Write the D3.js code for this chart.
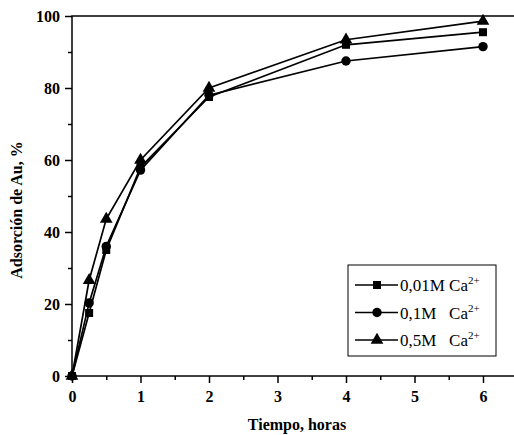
<!DOCTYPE html>
<html lang="es">
<head>
<meta charset="UTF-8">
<title>Adsorción de Au</title>
<script src="https://d3js.org/d3.v7.min.js"></script>
<style>
  body { margin: 0; padding: 0; background: #fff; }
  svg { display: block; font-family: "Liberation Serif", "Times New Roman", serif; }
</style>
</head>
<body>
<div id="chart"></div>
<script>
  // data
  const tiempo = [0, 0.25, 0.5, 1, 2, 4, 6];
  const ca001 = [0, 17.5, 35, 58, 77.5, 92, 95.5];
  const ca01 = [0, 20.3, 36, 57.2, 78, 87.5, 91.5];
  const ca05 = [0, 26.6, 43.6, 60, 80, 93.4, 98.6];
  const seriesNames = ["0,01M Ca", "0,1M   Ca", "0,5M   Ca"];
  const xTicks = [0, 1, 2, 3, 4, 5, 6];
  const yTicks = [0, 20, 40, 60, 80, 100];

  const width = 514, height = 435;
  const margin = { top: 16, bottom: 59, left: 72 };
  const xMax = 6.6; // frame runs past the right edge of the picture

  const svg = d3.select("#chart").append("svg")
    .attr("width", width).attr("height", height);

  const x = d3.scaleLinear().domain([0, xMax]).range([margin.left, margin.left + xMax * 68.5]);
  const y = d3.scaleLinear().domain([0, 100]).range([height - margin.bottom, margin.top]);

  // frame
  svg.append("rect")
    .attr("x", x(0)).attr("y", y(100))
    .attr("width", x(xMax) - x(0)).attr("height", y(0) - y(100))
    .attr("fill", "none").attr("stroke", "#000").attr("stroke-width", 1.5);

  // x axis
  const xAxis = svg.append("g").attr("transform", `translate(0,${y(0)})`);
  xAxis.call(d3.axisBottom(x).tickValues(xTicks).tickSize(7).tickPadding(8).tickFormat(d3.format("d")));
  xAxis.append("g").call(d3.axisBottom(x).tickValues([0.5, 1.5, 2.5, 3.5, 4.5, 5.5]).tickSize(4).tickFormat(""));
  // y axis
  const yAxis = svg.append("g").attr("transform", `translate(${x(0)},0)`);
  yAxis.call(d3.axisLeft(y).tickValues(yTicks).tickSize(7).tickPadding(5));
  yAxis.append("g").call(d3.axisLeft(y).tickValues([10, 30, 50, 70, 90]).tickSize(4).tickFormat(""));

  svg.selectAll(".domain").remove();
  svg.selectAll(".tick line").attr("stroke", "#000").attr("stroke-width", 1.5);
  svg.selectAll(".tick text")
    .attr("fill", "#000")
    .style("font-family", "Liberation Serif, serif")
    .style("font-size", "16px")
    .style("font-weight", "bold");

  // axis titles
  svg.append("text")
    .attr("x", 297).attr("y", 430)
    .attr("text-anchor", "middle")
    .style("font-size", "16px").style("font-weight", "bold")
    .text("Tiempo, horas");
  svg.append("text")
    .attr("transform", "translate(22,210) rotate(-90)")
    .attr("text-anchor", "middle")
    .style("font-size", "16px").style("font-weight", "bold")
    .text("Adsorción de Au, %");

  const series = [
    { name: seriesNames[0], values: ca001, shape: d3.symbolSquare, size: 64 },
    { name: seriesNames[1], values: ca01, shape: d3.symbolCircle, size: 70 },
    { name: seriesNames[2], values: ca05, shape: d3.symbolTriangle, size: 70 }
  ];

  const line = d3.line().x((d, i) => x(tiempo[i])).y(d => y(d));

  series.forEach(s => {
    svg.append("path")
      .datum(s.values)
      .attr("d", line)
      .attr("fill", "none").attr("stroke", "#000").attr("stroke-width", 1.7);
    svg.append("g").selectAll("path")
      .data(s.values)
      .join("path")
      .attr("transform", (d, i) => `translate(${x(tiempo[i])},${y(d)})`)
      .attr("d", d3.symbol().type(s.shape).size(s.size))
      .attr("fill", "#000");
  });

  // legend
  const lg = svg.append("g").attr("transform", "translate(348,265)");
  lg.append("rect").attr("width", 148).attr("height", 91)
    .attr("fill", "#fff").attr("stroke", "#000").attr("stroke-width", 1);
  series.forEach((s, i) => {
    const cy = 20 + i * 27.5;
    lg.append("line").attr("x1", 7).attr("x2", 50).attr("y1", cy).attr("y2", cy)
      .attr("stroke", "#000").attr("stroke-width", 1.7);
    lg.append("path").attr("transform", `translate(29,${cy})`)
      .attr("d", d3.symbol().type(s.shape).size(s.size))
      .attr("fill", "#000");
    const t = lg.append("text").attr("x", 52).attr("y", cy + 6)
      .style("font-size", "17px").attr("xml:space", "preserve");
    t.append("tspan").text(s.name);
    t.append("tspan").attr("dy", -7).style("font-size", "11px").text("2+");
  });
</script>
</body>
</html>
